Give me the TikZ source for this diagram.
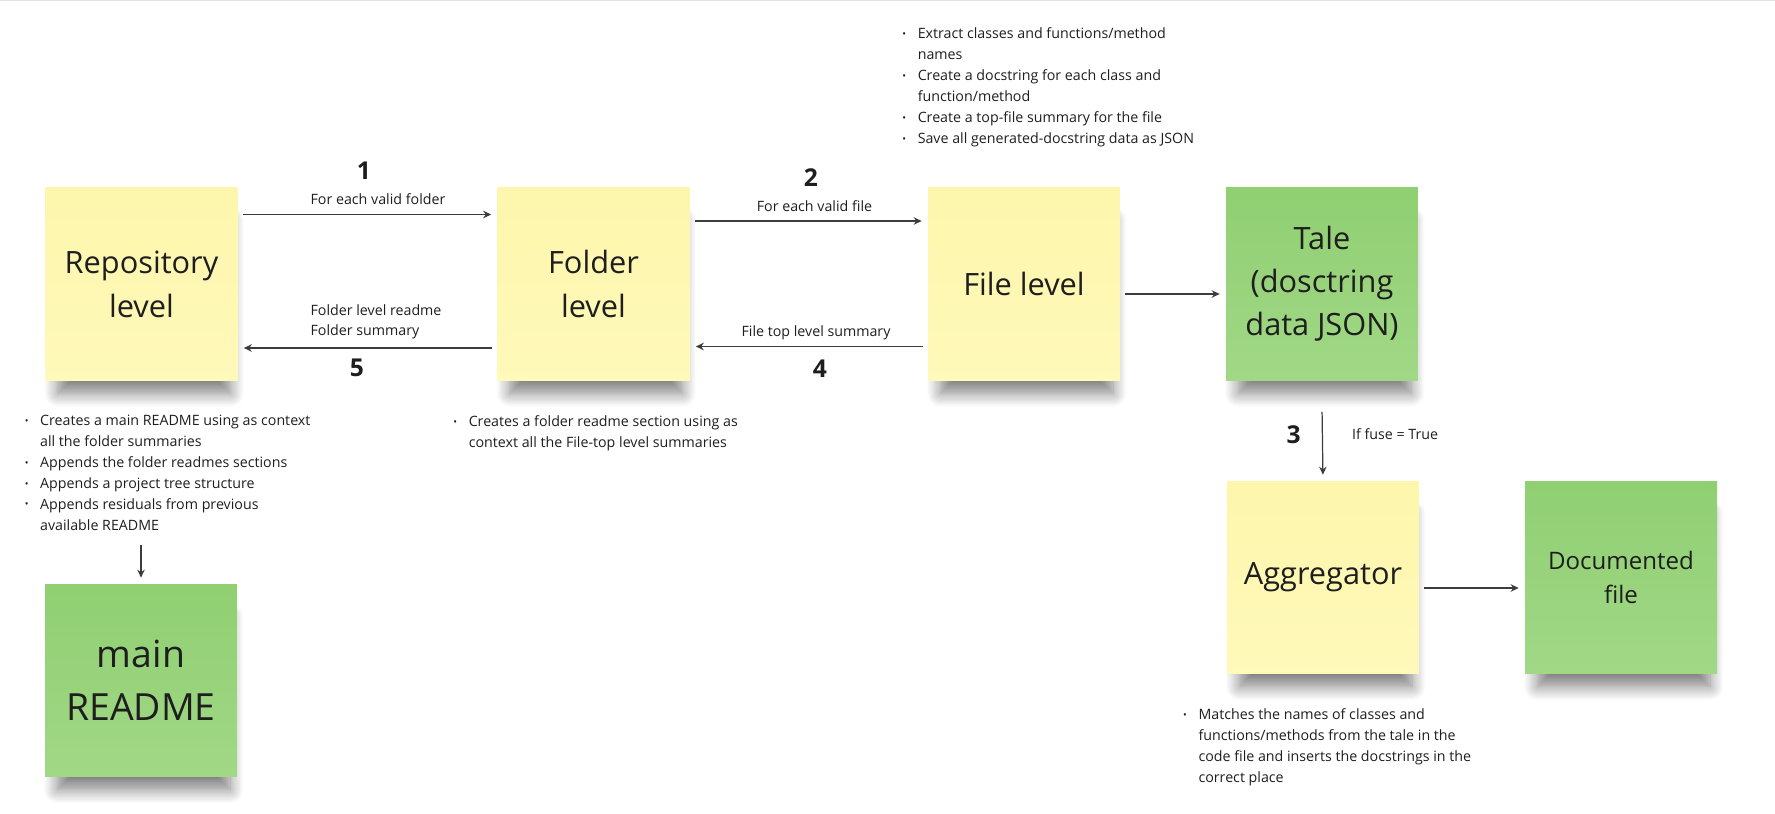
\documentclass[tikz,border=0pt]{standalone}
\usepackage{fontspec}
\setmainfont{Open Sans}
\usetikzlibrary{arrows.meta,shadows.blur}

\definecolor{noteyellow}{RGB}{253,246,172}
\definecolor{noteyellowlight}{RGB}{255,249,186}
\definecolor{notegreen}{RGB}{144,207,114}
\definecolor{notegreenlight}{RGB}{161,216,134}
\definecolor{inkgray}{RGB}{60,60,60}
\definecolor{textdark}{RGB}{30,30,30}

\newcommand{\bul}{\llap{\raisebox{0.15ex}{\scalebox{0.7}{\textbullet}}\hspace{6.6pt}}}

\begin{document}
\begin{tikzpicture}[x=0.02cm, y=-0.02cm,
	sticky/.style={minimum width=3.84cm, minimum height=3.86cm, inner sep=0pt,
		align=center, text=textdark, font=\fontsize{17.5}{25}\selectfont,
		blur shadow={shadow xshift=0.06cm, shadow yshift=-0.5cm, shadow scale=0.9,
			shadow blur radius=0.3cm, shadow blur steps=12, shadow opacity=50}},
	yellow note/.style={sticky, top color=noteyellow, bottom color=noteyellowlight},
	green note/.style={sticky, top color=notegreen, bottom color=notegreenlight},
	flow/.style={draw=inkgray, line width=0.7pt, shorten <=0.1cm, shorten >=0.12cm,
		-{Stealth[length=0.16cm, width=0.15cm]}},
	lbl/.style={inner sep=0pt, text=textdark, font=\fontsize{8.1}{11.9}\selectfont},
	stepnum/.style={inner sep=0pt, text=textdark, font=\fontsize{14}{16}\selectfont\bfseries},
	bullets/.style={lbl, align=left, anchor=base west}]
	\useasboundingbox (0,0) rectangle (1775,814);
	\draw[black!12, line width=0.6pt] (0,0.6) -- (1775,0.6);

	\node[yellow note] (repo) at (141.5,284) {Repository\\level};
	\node[yellow note] (folder) at (593.5,284) {Folder\\level};
	\node[yellow note] (file) at (1024,284) {File level};
	\node[green note, font=\fontsize{17.5}{24.5}\selectfont] (tale) at (1322,284) {Tale\\(dosctring\\data JSON)};
	\node[yellow note] (aggr) at (1323,577.5) {Aggregator};
	\node[green note, font=\fontsize{13.7}{19.5}\selectfont] (doc) at (1621,577.5) {Documented\\file};
	\node[green note, font=\fontsize{21.3}{30}\selectfont] (readme) at (141,680.5) {main\\README};

	\node[bullets] (fileNotes) at (917.4,143.3) {\bul Extract classes and functions/method\\names\\\bul Create a docstring for each class and\\function/method\\\bul Create a top-file summary for the file\\\bul Save all generated-docstring data as JSON};
	\node[bullets] (repoNotes) at (39.8,530) {\bul Creates a main README using as context\\all the folder summaries\\\bul Appends the folder readmes sections\\\bul Appends a project tree structure\\\bul Appends residuals from previous\\available README};
	\node[bullets] (folderNotes) at (468.4,447.3) {\bul Creates a folder readme section using as\\context all the File-top level summaries};
	\node[bullets] (aggrNotes) at (1198.2,782.3) {\bul Matches the names of classes and\\functions/methods from the tale in the\\code file and inserts the docstrings in the\\correct place};

	\draw[flow] ([yshift=1.39cm]repo.east) -- node[lbl, midway, anchor=base, xshift=0.21cm, yshift=0.21cm] (eachFolder) {For each valid folder}
		node[stepnum, midway, anchor=base, xshift=-0.07cm, yshift=0.71cm] (stepA) {1} ([yshift=1.39cm]folder.west);
	\draw[flow] ([yshift=1.26cm]folder.east) -- node[lbl, midway, anchor=base, xshift=0.115cm, yshift=0.2cm] (eachFile) {For each valid file}
		node[stepnum, midway, anchor=base, xshift=0.045cm, yshift=0.7cm] (stepB) {2} ([yshift=1.26cm]file.west);
	\draw[flow] ([yshift=-0.2cm]file.east) -- ([yshift=-0.2cm]tale.west);
	\draw[flow] ([yshift=-0.52cm]tale.south) -- node[stepnum, midway, anchor=base, xshift=-0.576cm] (stepC) {3}
		node[lbl, midway, anchor=base west, xshift=0.58cm, yshift=0.095cm] (fuseCond) {If fuse = True} (aggr.north);
	\draw[flow] ([yshift=-1.25cm]file.west) -- node[lbl, midway, anchor=base, xshift=0.145cm, yshift=0.19cm] (topSummary) {File top level summary}
		node[stepnum, midway, anchor=base, xshift=0.225cm, yshift=-0.63cm] (stepD) {4} ([yshift=-1.25cm]folder.east);
	\draw[flow] ([yshift=-1.28cm]folder.west) -- node[lbl, midway, align=left, anchor=south west, xshift=-1.15cm, yshift=0.16cm] (folderSummary) {Folder level readme\\Folder summary}
		node[stepnum, midway, anchor=base, xshift=-0.21cm, yshift=-0.58cm] (stepE) {5} ([yshift=-1.28cm]repo.east);
	\draw[flow] ([yshift=-0.21cm]aggr.east) -- ([yshift=-0.21cm]doc.west);
	\draw[flow] ([yshift=0.87cm]readme.north) -- (readme.north);
\end{tikzpicture}
\end{document}
